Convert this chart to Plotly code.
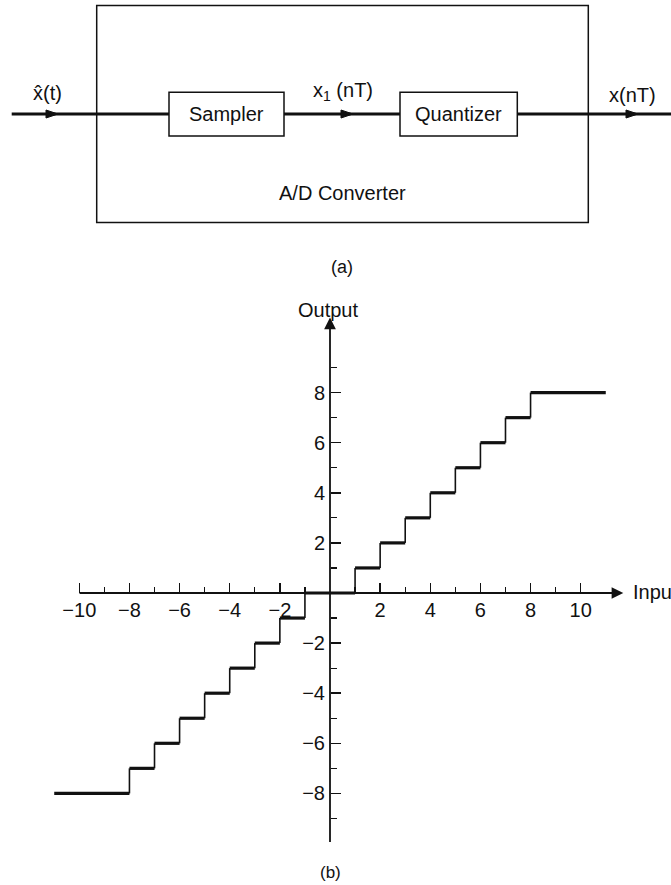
import plotly.graph_objects as go

# ---------------- data ----------------
step_x = [-11, -8, -7, -6, -5, -4, -3, -2, -1, 1, 2, 3, 4, 5, 6, 7, 8, 11]
step_y = [-8, -7, -6, -5, -4, -3, -2, -1, 0, 1, 2, 3, 4, 5, 6, 7, 8, 8]

x_major = [-10, -8, -6, -4, -2, 2, 4, 6, 8, 10]
x_labels = ["\u221210", "\u22128", "\u22126", "\u22124", "\u22122", "2", "4", "6", "8", "10"]
x_minor = [-9, -7, -5, -3, -1, 1, 3, 5, 7, 9]

y_major = [-8, -6, -4, -2, 2, 4, 6, 8]
y_labels = ["\u22128", "\u22126", "\u22124", "\u22122", "2", "4", "6", "8"]
y_minor = [-9, -7, -5, -3, -1, 1, 3, 5, 7, 9]

x_axis_span = [-10.05, 11.7]
y_axis_span = [-10.0, 11.0]

# ---------------- geometry ----------------
W, H = 671, 885
ORIGIN_PX = (330, 593)
SX, SY = 25.07, 25.05
x_range = [-ORIGIN_PX[0] / SX, (W - ORIGIN_PX[0]) / SX]
y_range = [-(H - ORIGIN_PX[1]) / SY, ORIGIN_PX[1] / SY]

FONT = "Liberation Sans, Arial, sans-serif"
INK = "#111111"


def px(x):
    return x / W


def py(y):
    return 1 - y / H


fig = go.Figure()

# horizontal (thick) and vertical (thin) parts of the staircase
hx, hy, vx, vy = [], [], [], []
for i in range(len(step_x) - 1):
    hx += [step_x[i], step_x[i + 1], None]
    hy += [step_y[i], step_y[i], None]
    vx += [step_x[i + 1], step_x[i + 1], None]
    vy += [step_y[i], step_y[i + 1], None]

fig.add_trace(go.Scatter(x=vx, y=vy, mode="lines", line=dict(color=INK, width=1.6),
                         hoverinfo="skip", showlegend=False))
fig.add_trace(go.Scatter(x=hx, y=hy, mode="lines", line=dict(color=INK, width=3.2),
                         hoverinfo="skip", showlegend=False))

shapes = []
annotations = []

# axis lines with arrow heads
annotations.append(dict(x=x_axis_span[1], y=0, ax=x_axis_span[0], ay=0, xref="x", yref="y",
                        axref="x", ayref="y", text="", showarrow=True, arrowhead=2,
                        arrowsize=1.3, arrowwidth=1.8, arrowcolor=INK, standoff=0))
annotations.append(dict(x=0, y=y_axis_span[1], ax=0, ay=y_axis_span[0], xref="x", yref="y",
                        axref="x", ayref="y", text="", showarrow=True, arrowhead=2,
                        arrowsize=1.3, arrowwidth=1.8, arrowcolor=INK, standoff=0))

# ---------------- block diagram (a) ----------------
def rect(x0, y0, x1, y1, w=1.5):
    shapes.append(dict(type="rect", xref="paper", yref="paper", x0=px(x0), x1=px(x1),
                       y0=py(y1), y1=py(y0), line=dict(color=INK, width=w)))


def hline(x0, x1, y, w=3):
    shapes.append(dict(type="line", xref="paper", yref="paper", x0=px(x0), x1=px(x1),
                       y0=py(y), y1=py(y), line=dict(color=INK, width=w)))


def head(tip, y, L=12, Wd=8):
    path = (f"M {px(tip)} {py(y)} L {px(tip - L)} {py(y - Wd / 2)} "
            f"L {px(tip - L)} {py(y + Wd / 2)} Z")
    shapes.append(dict(type="path", xref="paper", yref="paper", path=path,
                       fillcolor=INK, line=dict(color=INK, width=1)))


def text(t, x, y, size=20, xanchor="center"):
    annotations.append(dict(text=t, x=px(x), y=py(y), xref="paper", yref="paper",
                            showarrow=False, xanchor=xanchor, yanchor="middle",
                            font=dict(family=FONT, size=size, color=INK)))


rect(96.7, 5.5, 588.3, 222.5)
rect(169, 92.3, 284, 136)
rect(400, 92.3, 517.3, 136)
SIG_Y = 114
hline(11.7, 169, SIG_Y)
hline(284, 400, SIG_Y)
hline(517.3, 671, SIG_Y)
head(58, SIG_Y)
head(353, SIG_Y)
head(638, SIG_Y)

text("Sampler", 226.5, 114)
text("Quantizer", 458.7, 114)
text("A/D Converter", 343, 193)
text("x\u0302(t)", 47, 93)
text("x<sub>1</sub> (nT)", 343, 92)
text("x(nT)", 632, 95)
text("(a)", 342, 267, size=18)

# ---------------- plot (b) labels ----------------
text("Output", 328, 310, size=20)
text("Input", 631, 592, size=20, xanchor="left")
text("(b)", 330, 872, size=17)

fig.update_layout(
    width=W, height=H,
    margin=dict(l=0, r=0, t=0, b=0),
    paper_bgcolor="white", plot_bgcolor="white",
    shapes=shapes, annotations=annotations,
    xaxis=dict(range=x_range, domain=[0, 1], anchor="free", position=py(ORIGIN_PX[1]),
               showgrid=False, zeroline=False, showline=False,
               tickmode="array", tickvals=x_major, ticktext=x_labels,
               ticks="inside", ticklen=10, tickwidth=1.5, tickcolor=INK,
               ticklabelstandoff=3,
               tickfont=dict(family=FONT, size=20, color=INK),
               minor=dict(tickmode="array", tickvals=x_minor, ticks="inside", ticklen=6,
                          tickwidth=1.3, tickcolor=INK, showgrid=False),
               fixedrange=True),
    yaxis=dict(range=y_range, domain=[0, 1], anchor="free", position=px(ORIGIN_PX[0]),
               showgrid=False, zeroline=False, showline=False,
               tickmode="array", tickvals=y_major, ticktext=y_labels,
               ticks="inside", ticklen=10, tickwidth=1.5, tickcolor=INK,
               ticklabelstandoff=5,
               tickfont=dict(family=FONT, size=20, color=INK),
               minor=dict(tickmode="array", tickvals=y_minor, ticks="inside", ticklen=6,
                          tickwidth=1.3, tickcolor=INK, showgrid=False),
               fixedrange=True),
)

fig.write_html(
    "out.html",
    config={"displayModeBar": False, "staticPlot": True},
    post_script="document.body.style.margin='0px';"
                "document.documentElement.style.overflow='hidden';"
                "document.body.style.overflow='hidden';",
)
